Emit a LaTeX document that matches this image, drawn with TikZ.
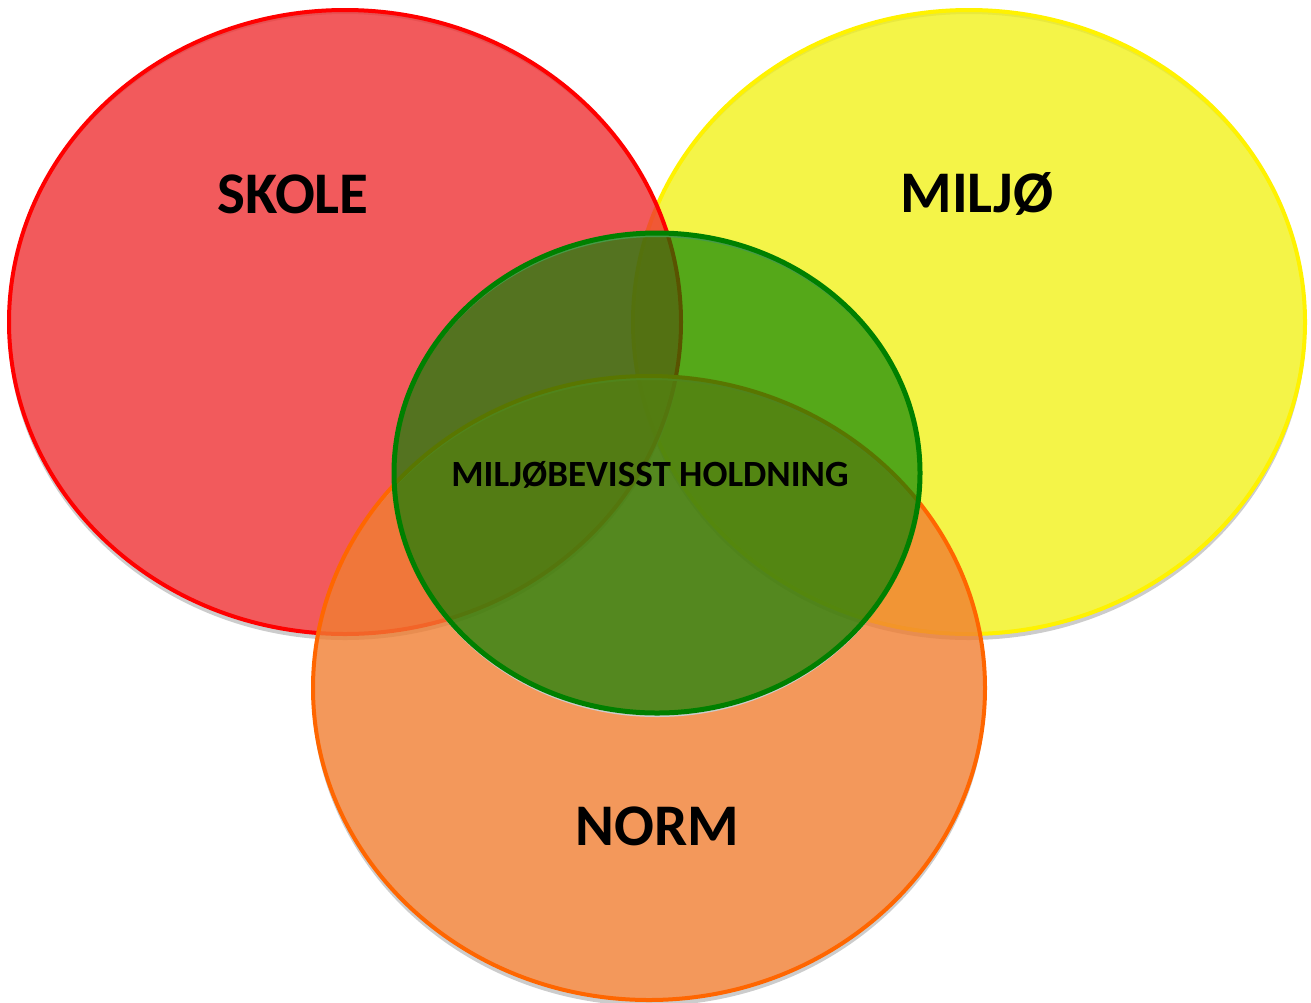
\documentclass[tikz,border=0pt]{standalone}
\usepackage{fontspec}
\setmainfont{Carlito}

\definecolor{skolefill}{RGB}{239,49,51}
\definecolor{miljofill}{RGB}{241,241,26}
\definecolor{normfill}{RGB}{240,126,50}
\definecolor{normline}{RGB}{255,102,0}
\definecolor{holdfill}{RGB}{0,128,0}
\definecolor{holdline}{RGB}{0,128,0}

\begin{document}
\begin{tikzpicture}[x=0.5pt,y=-0.5pt,
    ring/.style={line width=2pt, fill opacity=0.8},
    shade/.style={fill=black!20, even odd rule},
    big/.style={font=\bfseries\fontsize{29.5}{32}\selectfont},
    small/.style={font=\bfseries\fontsize{18.5}{20}\selectfont}]

    \useasboundingbox (0,0) rectangle (1311,1002);

    % Centres of the ellipses
    \coordinate (miljo) at (969,322); % yellow
    \coordinate (skole) at (345,322); % red
    \coordinate (norm) at (649,688); % orange
    \coordinate (hold) at (657,473); % green

    % Big ellipses with a thin shadow below
    \foreach \c/\line/\fil in {
        miljo/yellow/miljofill,
        skole/red/skolefill,
        norm/normline/normfill%
    } {
        \fill[shade] ([yshift=-2.5pt]\c) ellipse [x radius=337, y radius=313]
            (\c) ellipse [x radius=336, y radius=312];
        \draw[ring, draw=\line, fill=\fil] (\c) ellipse [x radius=336, y radius=312];
    }

    % Middle ellipse
    \fill[shade] ([yshift=-2pt]hold) ellipse [x radius=263, y radius=240]
        (hold) ellipse [x radius=263, y radius=240];
    \draw[line width=2.5pt, draw=holdline, fill=holdfill, fill opacity=0.65]
        (hold) ellipse [x radius=263, y radius=240];

    % Labels
    \node[big] (skoletxt) at (293,194) {SKOLE};
    \node[big] (miljotxt) at (977,194) {MILJØ};
    \node[big] (normtxt) at (657,826) {NORM};
    \node[small] (holdtxt) at (650,475) {MILJØBEVISST HOLDNING};
\end{tikzpicture}
\end{document}
